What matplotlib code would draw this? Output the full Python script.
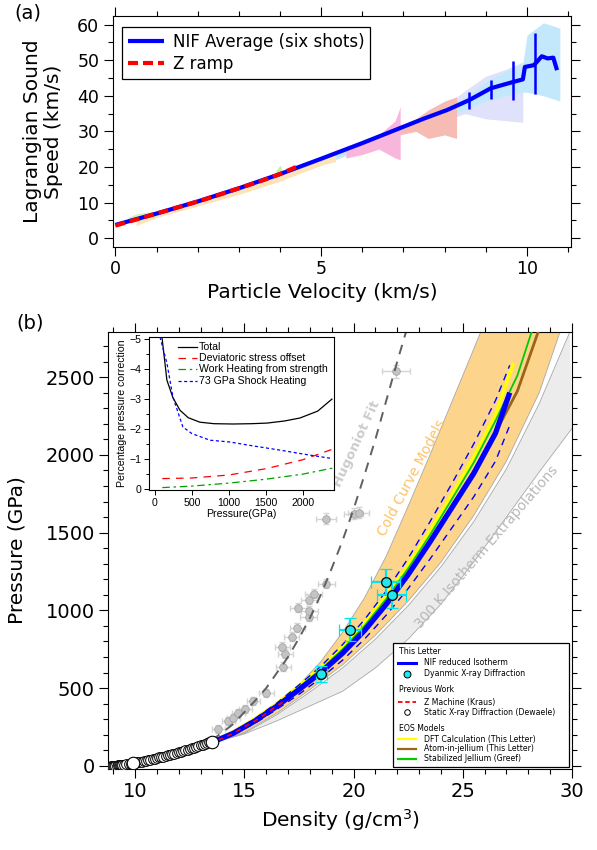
import matplotlib
matplotlib.use("Agg")
import matplotlib.pyplot as plt
from matplotlib.lines import Line2D
from matplotlib.patches import Rectangle
from matplotlib.ticker import MultipleLocator

# ---------------- panel (a) data ----------------
nif_u = [0.0, 1.0, 2.0, 3.0, 4.0, 5.0, 6.0, 7.0, 7.5, 8.06, 8.6, 9.12, 9.67, 9.9, 9.95,
         10.17, 10.36, 10.5, 10.64, 10.73]
nif_cl = [3.7, 6.9, 10.3, 14.0, 18.0, 22.3, 26.7, 31.3, 33.6, 36.0, 38.8, 42.1, 43.9, 44.6,
          48.1, 48.6, 51.1, 50.5, 50.7, 47.2]
zramp_u = [0.0, 0.5, 1.0, 1.5, 2.0, 2.5, 3.0, 3.5, 4.0, 4.45]
zramp_cl = [3.5, 5.2, 6.9, 8.6, 10.3, 12.1, 14.0, 15.9, 18.0, 20.3]
err_u = [8.6, 9.12, 9.67, 10.2]
err_lo = [36.4, 39.0, 38.8, 40.5]
err_hi = [41.1, 44.4, 49.8, 57.5]

# per-shot uncertainty bands (u, lower, upper)
peach_u = [0.5, 1.0, 2.0, 3.0, 4.0, 4.5, 5.0, 5.35]
peach_lo = [3.5, 5.8, 9.0, 12.3, 16.0, 18.3, 20.5, 21.5]
peach_hi = [6.0, 7.2, 10.5, 14.0, 18.0, 20.5, 22.5, 23.5]
green_u = [0.3, 0.5, 0.7, 1.0]
green_lo = [4.5, 4.7, 5.2, 6.0]
green_hi = [5.8, 6.8, 7.2, 7.5]
green2_u = [3.9, 4.0, 4.05]
green2_lo = [17.5, 17.8, 18.0]
green2_hi = [19.0, 20.5, 19.0]
pink_u = [5.6, 6.0, 6.4, 6.8, 6.92]
pink_lo = [22.5, 23.5, 25.0, 22.5, 22.0]
pink_hi = [24.5, 26.5, 29.0, 33.0, 36.9]
salmon_u = [6.9, 7.3, 7.6, 8.0, 8.29]
salmon_lo = [29.0, 30.0, 28.0, 29.0, 28.0]
salmon_hi = [31.5, 33.5, 36.0, 38.5, 39.7]
sky_u = [4.5, 5.0, 6.0, 7.0, 8.0, 8.5, 9.0, 9.5, 9.9, 10.0, 10.4, 10.8]
sky_lo = [18.5, 20.5, 25.0, 29.5, 34.0, 36.0, 38.5, 40.0, 41.0, 41.0, 40.0, 38.5]
sky_hi = [20.5, 23.0, 27.5, 32.0, 37.0, 39.5, 44.0, 47.0, 49.0, 57.0, 60.5, 59.0]
lav_u = [8.0, 8.5, 9.0, 9.5, 9.9]
lav_lo = [33.0, 35.0, 33.5, 33.0, 32.5]
lav_hi = [37.0, 41.5, 45.5, 47.5, 49.5]

# ---------------- panel (b) data ----------------
nif_rho = [13.5, 14.5, 15.5, 16.5, 17.5, 18.5, 19.5, 20.5, 21.5, 22.5, 23.5, 24.5, 25.5, 26.5, 27.15]
nif_p = [150, 210, 290, 385, 490, 600, 725, 870, 1040, 1230, 1440, 1660, 1880, 2140, 2400]
nif_p_hi = [155, 220, 305, 405, 520, 640, 780, 940, 1125, 1335, 1570, 1815, 2070, 2350, 2576]
nif_p_lo = [145, 200, 275, 365, 460, 565, 680, 815, 970, 1140, 1330, 1530, 1730, 1960, 2190]

zmach_rho = [13.8, 14.5, 15.5, 16.5, 16.8]
zmach_p = [165, 210, 290, 385, 415]

dft_rho = [13.5, 14.5, 15.5, 16.5, 17.5, 18.5, 19.5, 20.5, 21.5, 22.5, 23.5, 24.5, 25.5, 26.5, 27.3]
dft_p = [155, 220, 305, 402, 515, 632, 765, 918, 1095, 1292, 1510, 1745, 1985, 2260, 2580]
aij_rho = [13.5, 14.5, 15.5, 16.5, 17.5, 18.5, 19.5, 20.5, 21.5, 22.5, 23.5, 24.5, 25.5, 26.5, 27.5, 28.45]
aij_p = [150, 212, 293, 388, 495, 608, 735, 880, 1050, 1240, 1450, 1670, 1895, 2145, 2410, 2790]
sj_rho = [13.5, 14.5, 15.5, 16.5, 17.5, 18.5, 19.5, 20.5, 21.5, 22.5, 23.5, 24.5, 25.5, 26.5, 27.5, 28.15]
sj_p = [152, 215, 298, 395, 505, 620, 750, 900, 1075, 1270, 1485, 1715, 1950, 2220, 2510, 2790]

cold_lo_rho = [13.6, 14.5, 15.5, 16.5, 17.5, 18.5, 19.5, 20.5, 21.5, 22.5, 23.5, 24.5, 25.5, 25.85]
cold_lo_p = [150, 220, 305, 400, 520, 670, 860, 1080, 1350, 1670, 2000, 2340, 2680, 2800]
cold_hi_rho = [13.6, 15.0, 16.5, 18.0, 19.5, 21.0, 22.5, 24.0, 25.5, 27.0, 28.5, 29.45]
cold_hi_p = [150, 215, 340, 490, 650, 840, 1060, 1310, 1610, 1960, 2400, 2790]
iso_hi_rho = [13.6, 15.0, 16.5, 18.0, 19.5, 21.0, 22.5, 24.0, 25.5, 27.0, 28.5, 29.9]
iso_hi_p = [150, 210, 330, 475, 630, 815, 1030, 1280, 1570, 1910, 2330, 2790]
iso_lo_rho = [13.6, 15.0, 16.5, 18.0, 19.5, 21.0, 22.5, 24.0, 25.5, 27.0, 28.5, 30.0]
iso_lo_p = [150, 205, 290, 385, 480, 630, 815, 1040, 1310, 1600, 1890, 2170]

hfit_rho = [13.5, 14.0, 14.5, 15.0, 15.5, 16.0, 16.5, 17.0, 17.5, 18.0, 18.5, 19.0, 19.5,
            20.0, 20.5, 21.0, 21.5, 22.0, 22.4]
hfit_p = [165, 215, 270, 345, 420, 500, 600, 700, 820, 950, 1100, 1270, 1450, 1650, 1870,
          2100, 2350, 2600, 2790]
hug_rho = [13.8, 14.27, 14.5, 14.73, 15.05, 15.4, 16.0, 16.79, 16.88, 16.74, 17.16, 17.43,
           17.94, 17.98, 17.48, 17.98, 18.17, 18.76, 18.75, 20.0, 20.23, 21.93]
hug_p = [238, 290, 309, 341, 367, 418, 470, 637, 721, 766, 831, 889, 959, 998, 1017, 1069,
         1108, 1172, 1590, 1622, 1629, 2537]
hug_xerr = [0.3, 0.3, 0.3, 0.3, 0.3, 0.3, 0.35, 0.35, 0.35, 0.35, 0.35, 0.35, 0.4, 0.4, 0.4,
            0.4, 0.4, 0.4, 0.45, 0.45, 0.5, 0.65]
hug_yerr = [25, 25, 25, 25, 25, 25, 25, 30, 30, 30, 30, 30, 30, 30, 30, 30, 30, 30, 35, 35, 35, 40]

xrd_rho = [18.53, 19.82, 21.47, 21.74]
xrd_p = [592, 876, 1185, 1101]
xrd_xerr = [0.27, 0.5, 0.65, 0.65]
xrd_yerr = [50, 75, 80, 85]

static_rho = [8.88, 8.95, 9.0, 9.05, 9.1, 9.15, 9.2, 9.25, 9.3, 9.35, 9.4, 9.5, 9.6, 9.7,
              9.8, 9.9, 10.0, 10.1, 10.2, 10.3, 10.4, 10.5, 10.6, 10.7, 10.8, 10.9, 11.0,
              11.1, 11.2, 11.3, 11.4, 11.5, 11.6, 11.7, 11.8, 11.9, 12.0, 12.1, 12.2, 12.3,
              12.4, 12.5, 12.6, 12.7, 12.8, 12.9, 13.0, 13.1, 13.2, 13.3, 13.4, 13.5]
static_p = [0, 0, 1, 1, 2, 2, 3, 3, 4, 5, 6, 8, 10, 12, 15, 18, 20, 22, 25, 28, 30, 33, 37,
            40, 43, 47, 50, 54, 57, 60, 64, 67, 71, 75, 79, 83, 87, 91, 96, 100, 104, 109,
            113, 118, 122, 127, 132, 137, 141, 146, 151, 156]
static_big_rho = [9.9, 13.5]
static_big_p = [18, 156]

# ---------------- inset data ----------------
total_p = [95, 162, 243, 338, 450, 608, 800, 1054, 1300, 1513, 1750, 1960, 2200, 2392]
total_v = [-5.07, -3.63, -3.05, -2.63, -2.38, -2.23, -2.18, -2.17, -2.18, -2.2, -2.27, -2.37, -2.6, -3.0]
shock_p = [68, 162, 243, 378, 500, 743, 1013, 1300, 1689, 2000, 2365]
shock_v = [-5.07, -4.2, -3.07, -2.07, -1.85, -1.63, -1.57, -1.45, -1.3, -1.17, -1.03]
dev_p = [100, 500, 1000, 1500, 2000, 2400]
dev_v = [-0.35, -0.37, -0.47, -0.68, -0.98, -1.33]
work_p = [100, 500, 1000, 1500, 2000, 2400]
work_v = [-0.05, -0.1, -0.2, -0.33, -0.5, -0.7]

BLUE = "#0000ff"
RED = "#ff0000"


def igor_ticks(ax, major=6.5, minor=3.5):
    ax.tick_params(which="both", direction="out", top=True, right=True, width=0.8)
    ax.tick_params(which="major", length=major)
    ax.tick_params(which="minor", length=minor)
    for s in ax.spines.values():
        s.set_linewidth(0.8)


fig = plt.figure(figsize=(5.97, 8.5), dpi=100)
plt.rcParams["font.family"] = "DejaVu Sans"

# ================= (a) =================
W, H = 597.0, 850.0
axa = fig.add_axes([112.5 / W, 1 - 247 / H, 458.5 / W, 231.3 / H])
for u, lo, hi, c in [(lav_u, lav_lo, lav_hi, "#dfe2fa"),
                     (sky_u, sky_lo, sky_hi, "#c4e8fb"),
                     (salmon_u, salmon_lo, salmon_hi, "#f6bcb4"),
                     (pink_u, pink_lo, pink_hi, "#f9b6dc"),
                     (peach_u, peach_lo, peach_hi, "#fde3b8"),
                     (green_u, green_lo, green_hi, "#cdf5b8"),
                     (green2_u, green2_lo, green2_hi, "#bff2a8")]:
    axa.fill_between(u, lo, hi, color=c, lw=0)
axa.plot(nif_u, nif_cl, color=BLUE, lw=3.0, solid_capstyle="butt",
         label="NIF Average (six shots)")
axa.vlines(err_u, err_lo, err_hi, color=BLUE, lw=1.8)
axa.plot(zramp_u, zramp_cl, color=RED, lw=3.0, dashes=(2.4, 1.2), label="Z ramp")
axa.set_xlim(-0.07, 11.07)
axa.set_ylim(-2.5, 62.5)
axa.xaxis.set_major_locator(MultipleLocator(5))
axa.xaxis.set_minor_locator(MultipleLocator(1))
axa.yaxis.set_major_locator(MultipleLocator(10))
axa.yaxis.set_minor_locator(MultipleLocator(5))
igor_ticks(axa)
axa.tick_params(labelsize=12.5, pad=3)
axa.set_xlabel("Particle Velocity (km/s)", fontsize=14.5)
axa.xaxis.set_label_coords(0.457, -0.155)
axa.set_ylabel("Lagrangian Sound\nSpeed (km/s)", fontsize=14.5, linespacing=1.1)
axa.yaxis.set_label_coords(-0.108, 0.5)
leg = axa.legend(loc="upper left", bbox_to_anchor=(0.02, 0.95), fontsize=12,
                 frameon=True, fancybox=False, edgecolor="black", framealpha=1,
                 handlelength=2.2, handletextpad=0.5, borderpad=0.35, labelspacing=0.25,
                 borderaxespad=0)
leg.get_frame().set_linewidth(0.9)
fig.text(28 / W, 1 - 13 / H, "(a)", fontsize=14, ha="center", va="center")

# ================= (b) =================
axb = fig.add_axes([108 / W, 1 - 769 / H, 464 / W, 437 / H])
# 300 K isotherm extrapolation band (gray) and cold curve band (orange)
axb.fill(iso_lo_rho + iso_hi_rho[::-1] + [iso_lo_rho[0]],
         iso_lo_p + iso_hi_p[::-1] + [iso_lo_p[0]], color="#ececec", lw=0, zorder=1)
axb.fill(cold_lo_rho + cold_hi_rho[::-1] + [cold_lo_rho[0]],
         cold_lo_p + cold_hi_p[::-1] + [cold_lo_p[0]], color="#fdd48c", lw=0, zorder=1.1)
for r, p in [(iso_lo_rho, iso_lo_p), (iso_hi_rho, iso_hi_p),
             (cold_lo_rho, cold_lo_p), (cold_hi_rho, cold_hi_p)]:
    axb.plot(r, p, color="#a8a8a8", lw=0.6, zorder=1.2)

# Hugoniot data and fit
axb.errorbar(hug_rho, hug_p, xerr=hug_xerr, yerr=hug_yerr, fmt="none", ecolor="#d4d4d4",
             elinewidth=1.0, capsize=2.5, zorder=2)
axb.plot(hug_rho, hug_p, "o", ms=5.5, mfc="#c4c4c4", mec="#a4a4a4", mew=0.6, zorder=2.1)
axb.plot(hfit_rho, hfit_p, color="#606060", lw=1.4, dashes=(5, 4), zorder=2.2)

# EOS models
axb.plot(dft_rho, dft_p, color="#ffff00", lw=2.5, zorder=3)
axb.plot(aij_rho, aij_p, color="#9c6418", lw=2.0, zorder=3.1)
axb.plot(sj_rho, sj_p, color="#00cc00", lw=1.3, zorder=3.2)

# NIF isotherm with uncertainty bounds
axb.plot(nif_rho, nif_p_hi, color=BLUE, lw=1.0, dashes=(5, 4), zorder=3.3)
axb.plot(nif_rho, nif_p_lo, color=BLUE, lw=1.0, dashes=(5, 4), zorder=3.3)
axb.plot(nif_rho, nif_p, color=BLUE, lw=3.8, zorder=3.4, solid_capstyle="butt")
axb.plot(zmach_rho, zmach_p, color=RED, lw=1.2, dashes=(3, 3), zorder=3.5)

# static and dynamic diffraction
axb.plot(static_rho, static_p, "o", ms=7, mfc="white", mec="black", mew=0.7, zorder=4)
axb.plot(static_big_rho, static_big_p, "o", ms=9, mfc="white", mec="black", mew=0.8,
         zorder=4.1)
axb.errorbar(xrd_rho, xrd_p, xerr=xrd_xerr, yerr=xrd_yerr, fmt="o", ms=7, mfc="#22e6ee",
             mec="black", mew=0.9, ecolor="#00e5ee", elinewidth=1.6, capsize=4,
             capthick=1.6, zorder=5)

axb.set_xlim(8.76, 30.0)
axb.set_ylim(-20, 2790)
axb.xaxis.set_major_locator(MultipleLocator(5))
axb.xaxis.set_minor_locator(MultipleLocator(1))
axb.yaxis.set_major_locator(MultipleLocator(500))
axb.yaxis.set_minor_locator(MultipleLocator(100))
igor_ticks(axb)
axb.tick_params(labelsize=14, pad=3)
axb.set_xlabel("Density (g/cm$^3$)", fontsize=14.5)
axb.set_ylabel("Pressure (GPa)", fontsize=14.5)
axb.yaxis.set_label_coords(-0.175, 0.5)

# rotated band annotations
axb.text(20.14, 2073, "Hugoniot Fit", rotation=65, color="#cccccc", fontsize=9.5,
         fontweight="bold", ha="center", va="center", rotation_mode="anchor", zorder=6)
axb.text(22.66, 1854, "Cold Curve Models", rotation=62, color="#fcc36a", fontsize=10,
         ha="center", va="center", rotation_mode="anchor", zorder=6)
axb.text(26.1, 1404, "300 K Isotherm Extrapolations", rotation=49, color="#b8b8b8",
         fontsize=10, ha="center", va="center", rotation_mode="anchor", zorder=6)

fig.text(30 / W, 1 - 323 / H, "(b)", fontsize=14, ha="center", va="center")

# legend for (b), drawn in axes-fraction coordinates
T = axb.transAxes
axb.add_patch(Rectangle((0.614, 0.005), 0.38, 0.283, transform=T, facecolor="white",
                        edgecolor="black", lw=0.9, zorder=7))
lfs = 5.6
hx0, hx1, tx, gx = 0.625, 0.664, 0.681, 0.627
rows = [
    ("head", 0.268, "This Letter", None),
    ("line", 0.2426, "NIF reduced Isotherm", dict(color=BLUE, lw=2.2)),
    ("mark", 0.2174, "Dyanmic X-ray Diffraction",
     dict(marker="o", ms=5, mfc="#22e6ee", mec="black", mew=0.7)),
    ("head", 0.181, "Previous Work", None),
    ("line", 0.153, "Z Machine (Kraus)", dict(color=RED, lw=1.3, dashes=(2.5, 1.5))),
    ("mark", 0.130, "Static X-ray Diffraction (Dewaele)",
     dict(marker="o", ms=4, mfc="white", mec="black", mew=0.7)),
    ("head", 0.0938, "EOS Models", None),
    ("line", 0.0686, "DFT Calculation (This Letter)", dict(color="#ffff00", lw=1.6)),
    ("line", 0.0458, "Atom-in-jellium (This Letter)", dict(color="#9c6418", lw=1.6)),
    ("line", 0.0229, "Stabilized Jellium (Greef)", dict(color="#00cc00", lw=1.6)),
]
for kind, y, label, style in rows:
    if kind == "head":
        axb.text(gx, y, label, transform=T, fontsize=lfs, va="center", ha="left", zorder=8)
        continue
    if kind == "line":
        axb.add_line(Line2D([hx0, hx1], [y, y], transform=T, zorder=8, **style))
    else:
        axb.add_line(Line2D([(hx0 + hx1) / 2], [y], transform=T, ls="none", zorder=8, **style))
    axb.text(tx, y, label, transform=T, fontsize=lfs, va="center", ha="left", zorder=8)

# ================= inset =================
axi = fig.add_axes([149 / W, 1 - 490 / H, 185 / W, 153 / H], zorder=10)
axi.set_facecolor("white")
IFONT = "Liberation Sans"
ifs = 7.6
axi.plot(total_p, total_v, color="black", lw=0.9)
axi.plot(dev_p, dev_v, color=RED, lw=0.9, dashes=(6, 5))
axi.plot(work_p, work_v, color="#00a000", lw=0.9, dashes=(6, 3, 2, 3))
axi.plot(shock_p, shock_v, color=BLUE, lw=0.9, dashes=(2.5, 2))
axi.set_xlim(-80, 2420)
axi.set_ylim(0.03, -5.07)
axi.xaxis.set_major_locator(MultipleLocator(500))
axi.yaxis.set_major_locator(MultipleLocator(1))
axi.yaxis.set_minor_locator(MultipleLocator(0.5))
axi.tick_params(which="both", direction="out", width=0.7, labelsize=ifs, pad=2)
axi.tick_params(which="major", length=3.5)
axi.tick_params(which="minor", length=2)
for s in axi.spines.values():
    s.set_linewidth(0.8)
for lab in axi.get_xticklabels() + axi.get_yticklabels():
    lab.set_fontfamily(IFONT)
axi.set_xlabel("Pressure(GPa)", fontsize=ifs, family=IFONT, labelpad=1)
axi.set_ylabel("Percentage pressure correction", fontsize=ifs, family=IFONT, labelpad=2)
Ti = axi.transAxes
inset_rows = [
    (0.935, "Total", dict(color="black", lw=0.9)),
    (0.863, "Deviatoric stress offset", dict(color=RED, lw=0.9, dashes=(6, 5))),
    (0.791, "Work Heating from strength", dict(color="#00a000", lw=0.9, dashes=(6, 3, 2, 3))),
    (0.712, "73 GPa Shock Heating", dict(color=BLUE, lw=0.9, dashes=(2.5, 2))),
]
for y, label, style in inset_rows:
    axi.add_line(Line2D([0.157, 0.259], [y, y], transform=Ti, **style))
    axi.text(0.27, y, label, transform=Ti, fontsize=ifs, family=IFONT, va="center", ha="left")

fig.savefig("out.png", dpi=100)
